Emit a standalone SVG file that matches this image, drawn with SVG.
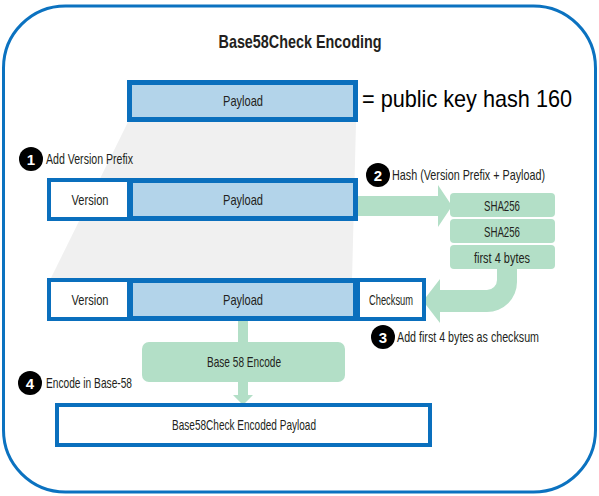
<svg xmlns="http://www.w3.org/2000/svg" width="599" height="496" viewBox="0 0 599 496">
<style>
text{font-family:"Liberation Sans Narrow","Liberation Sans",Arial,sans-serif;fill:#231f20}
.lbl{font-size:15px;text-anchor:middle}
.step{font-size:14.5px}
.num{font-size:15px;font-weight:bold;fill:#fff;text-anchor:middle}
.pay{fill:#b3d4ea;stroke:#0a6fbd;stroke-width:5}
.wht{fill:#fff;stroke:#0a6fbd;stroke-width:4}
.grn{fill:#b3dfc7}
</style>
<rect x="3.5" y="6" width="592" height="486" rx="62" fill="#fff" stroke="#0b72c0" stroke-width="3"/>
<text x="300" y="48" style="font-size:19px;font-weight:bold;text-anchor:middle" textLength="163" lengthAdjust="spacingAndGlyphs">Base58Check Encoding</text>
<polygon points="128,122 356,122 352,280 50,280" fill="#f0f0f0"/>

<g id="connectors">
<path class="grn" d="M358,196 L438,196 L438,185 L452,206 L438,227 L438,216 L358,216 Z"/>
<path class="grn" d="M497,268 L517,268 L517,282 A30,30 0 0 1 487,312 L440,312 L440,323 L423,301 L440,279 L440,290 L487,290 A10,10 0 0 0 497,280 Z"/>
<rect class="grn" x="238" y="320" width="10" height="24"/>
<path class="grn" d="M238,380 L248,380 L248,395 L253,395 L243,405 L233,395 L238,395 Z"/>
</g>

<g id="payload-top">
<rect class="pay" x="129.5" y="82.5" width="226" height="37"/>
<text class="lbl" x="243" y="106" textLength="40" lengthAdjust="spacingAndGlyphs">Payload</text>
</g>
<g id="note">
<text x="362" y="107" style="font-size:24px;fill:#000" textLength="210" lengthAdjust="spacingAndGlyphs">= public key hash 160</text>
</g>

<g id="step1">
<circle cx="31" cy="159" r="12" fill="#000"/>
<text class="num" x="31" y="164.5">1</text>
<text class="step" x="46" y="164" textLength="87" lengthAdjust="spacingAndGlyphs">Add Version Prefix</text>
</g>

<g id="row1-version">
<rect class="wht" x="49" y="180" width="80" height="39"/>
<text class="lbl" x="90" y="205" textLength="37" lengthAdjust="spacingAndGlyphs">Version</text>
</g>
<g id="row1-payload">
<rect class="pay" x="130.5" y="180.5" width="225" height="38"/>
<text class="lbl" x="243" y="205" textLength="40" lengthAdjust="spacingAndGlyphs">Payload</text>
</g>

<g id="step2">
<circle cx="378" cy="175" r="12" fill="#000"/>
<text class="num" x="378" y="180.5">2</text>
<text class="step" x="392" y="180" textLength="153" lengthAdjust="spacingAndGlyphs">Hash (Version Prefix + Payload)</text>
</g>

<g id="sha1">
<rect class="grn" x="450" y="193" width="105" height="24" rx="4"/>
<text class="lbl" x="502" y="210.5" textLength="36" lengthAdjust="spacingAndGlyphs">SHA256</text>
</g>
<g id="sha2">
<rect class="grn" x="450" y="219" width="105" height="24" rx="4"/>
<text class="lbl" x="502" y="236.5" textLength="36" lengthAdjust="spacingAndGlyphs">SHA256</text>
</g>
<g id="first4">
<rect class="grn" x="450" y="245" width="105" height="24" rx="4"/>
<text class="lbl" x="502" y="262.5" textLength="56" lengthAdjust="spacingAndGlyphs">first 4 bytes</text>
</g>

<g id="row2-version">
<rect class="wht" x="49" y="280" width="80" height="39"/>
<text class="lbl" x="90" y="305" textLength="37" lengthAdjust="spacingAndGlyphs">Version</text>
</g>
<g id="row2-payload">
<rect class="pay" x="130.5" y="280.5" width="225" height="38"/>
<text class="lbl" x="243" y="305" textLength="40" lengthAdjust="spacingAndGlyphs">Payload</text>
</g>
<g id="row2-checksum">
<rect class="wht" x="358" y="280" width="66" height="39"/>
<text class="lbl" x="391" y="305" textLength="44" lengthAdjust="spacingAndGlyphs">Checksum</text>
</g>

<g id="step3">
<circle cx="383" cy="337" r="12" fill="#000"/>
<text class="num" x="383" y="342.5">3</text>
<text class="step" x="397" y="342" textLength="142" lengthAdjust="spacingAndGlyphs">Add first 4 bytes as checksum</text>
</g>

<g id="base58-encode">
<rect class="grn" x="142" y="342" width="203" height="40" rx="7"/>
<text class="lbl" x="244" y="367" textLength="74" lengthAdjust="spacingAndGlyphs">Base 58 Encode</text>
</g>

<g id="step4">
<circle cx="30" cy="383" r="12" fill="#000"/>
<text class="num" x="30" y="388.5">4</text>
<text class="step" x="46" y="388" textLength="86" lengthAdjust="spacingAndGlyphs">Encode in Base-58</text>
</g>

<g id="encoded-payload">
<rect class="wht" x="57" y="405" width="373" height="40"/>
<text class="lbl" x="244" y="430" textLength="144" lengthAdjust="spacingAndGlyphs">Base58Check Encoded Payload</text>
</g>
</svg>
